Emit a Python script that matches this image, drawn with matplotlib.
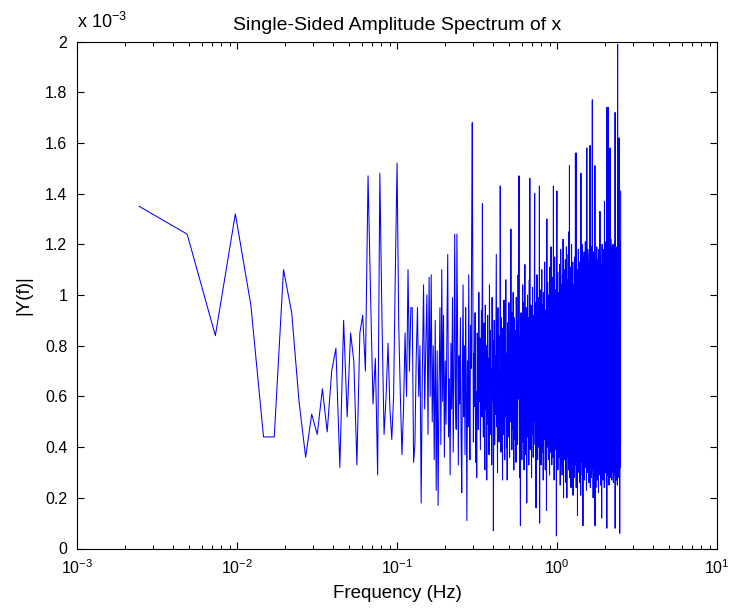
import numpy as np
import matplotlib
matplotlib.use("Agg")
import matplotlib.pyplot as plt
from matplotlib.ticker import FuncFormatter, LogLocator, FixedLocator

plt.rcParams["font.family"] = ["Liberation Sans", "DejaVu Sans"]
plt.rcParams["mathtext.fontset"] = "custom"
plt.rcParams["mathtext.rm"] = "Liberation Sans"
plt.rcParams["mathtext.it"] = "Liberation Sans:italic"
plt.rcParams["mathtext.default"] = "regular"

# Sampling setup of the analysed signal
fs = 5.0          # Hz
nfft = 2048

# Single-sided amplitude |Y(f)|, in units of 1e-5 (i.e. hundredths of 1e-3),
# one value per FFT bin starting at the first non-zero frequency.
amp_low = [
    135, 124, 84, 132, 96, 44, 44, 110, 93, 58,
    36, 53, 45, 63, 46, 70, 79, 32, 90, 52,
    85, 74, 33, 85, 92, 70, 147, 100, 57, 75,
    29, 148, 90, 45, 60, 81, 55, 43, 60, 110,
    152, 88, 60, 37, 55, 85, 60, 110, 70, 95,
    95, 34, 41, 75, 95, 60, 80, 18, 70, 104,
    55, 80, 100, 45, 107, 60, 108, 50, 80, 35,
]

amp_mid = [
    90, 23, 78, 17, 64, 95, 41, 110, 58, 92,
    36, 74, 49, 86, 116, 44, 67, 29, 81, 55,
    99, 38, 72, 124, 61, 47, 124, 83, 33, 76,
    57, 91, 45, 22, 69, 104, 52, 80, 37, 95,
    63, 11, 74, 48, 108, 59, 35, 88, 71, 126,
    168, 98, 42, 77, 56, 93, 34, 62, 28, 85,
    70, 47, 101, 58, 83, 39, 66, 94, 52, 136,
    61, 44, 89, 73, 31, 96, 55, 80, 27, 68,
    92, 49, 75, 37, 104, 63, 86, 45, 71, 33,
    99, 58, 82, 7, 67, 90, 41, 76, 53, 88,
    116, 48, 72, 30, 95, 61, 84, 42, 69, 57,
    143, 66, 38, 91, 54, 79, 27, 87, 62, 45,
    98, 70, 35, 83, 52, 106, 64, 40, 77, 27,
    89, 58, 73, 44, 97, 61, 36, 85, 50, 74,
    126, 57, 82, 39, 93, 68, 47, 101, 55, 31,
    78, 91, 60, 43, 86, 72, 34, 99, 65, 52,
    88, 41, 76, 108, 59, 95, 147, 63, 28, 84,
]

amp_high = [
    50, 9, 77, 93, 46, 68, 35, 88, 61, 104,
    42, 79, 56, 97, 31, 73, 64, 112, 48, 85,
    37, 69, 95, 53, 18, 81, 60, 100, 44, 74,
    58, 91, 33, 77, 106, 49, 146, 66, 39, 83,
    55, 96, 71, 28, 88, 62, 45, 103, 57, 79,
    36, 92, 68, 50, 84, 116, 140, 59, 41, 75,
    97, 63, 16, 87, 54, 72, 108, 46, 80, 35,
    93, 67, 51, 99, 40, 76, 61, 143, 10, 85,
    57, 102, 44, 71, 90, 33, 78, 64, 110, 49,
    83, 38, 96, 59, 74, 27, 101, 66, 52, 88,
    43, 79, 113, 56, 69, 31, 94, 62, 85, 47,
    76, 15, 97, 130, 53, 82, 40, 105, 68, 58,
    91, 35, 77, 63, 100, 45, 86, 29, 73, 111,
    52, 80, 38, 95, 66, 119, 49, 71, 84, 33,
    99, 58, 76, 42, 107, 61, 88, 36, 143, 70,
    54, 93, 27, 81, 65, 115, 47, 89, 60, 102,
    39, 75, 96, 51, 84, 5, 68, 121, 141, 57,
    92, 44, 78, 109, 31, 86, 63, 98, 48, 74,
    101, 36, 83, 59, 112, 42, 95, 67, 25, 88,
    70, 118, 53, 79, 33, 104, 61, 90, 45, 97,
    29, 76, 108, 55, 84, 38, 122, 66, 93, 20,
    81, 58, 110, 47, 96, 71, 35, 103, 62, 87,
    41, 114, 74, 52, 99, 26, 85, 67, 119, 44,
    92, 20, 78, 106, 57, 88, 36, 101, 69, 48,
    116, 59, 83, 31, 97, 72, 125, 43, 90, 151,
    64, 28, 105, 80, 53, 94, 38, 111, 66, 85,
    24, 99, 73, 47, 120, 58, 87, 35, 108, 62,
    91, 42, 79, 113, 56, 21, 96, 70, 104, 49,
]

amp_top = [
    83, 37, 102, 61, 90, 28, 75, 115, 50, 94,
    66, 33, 108, 156, 71, 45, 99, 59, 86, 24,
    156, 68, 103, 40, 92, 77, 31, 110, 57, 13,
    97, 64, 85, 36, 106, 52, 118, 43, 79, 95,
    30, 88, 70, 113, 48, 101, 26, 82, 62, 109,
    55, 92, 39, 104, 73, 21, 96, 148, 60, 84,
    47, 111, 67, 34, 98, 79, 120, 51, 87, 29,
    102, 63, 94, 41, 9, 107, 72, 115, 45, 89,
    58, 100, 35, 83, 117, 66, 27, 95, 53, 112,
    74, 38, 105, 81, 49, 121, 60, 90, 32, 99,
    68, 114, 44, 86, 57, 23, 103, 76, 158, 52,
    92, 40, 108, 64, 97, 30, 84, 118, 55, 73,
    101, 36, 89, 62, 113, 47, 80, 26, 106, 69,
    93, 42, 116, 58, 85, 33, 99, 71, 159, 50,
    87, 24, 110, 65, 96, 45, 104, 78, 37, 119,
    61, 91, 28, 102, 74, 53, 114, 39, 88, 67,
    177, 46, 98, 82, 31, 109, 59, 94, 20, 105,
    70, 43, 117, 63, 86, 35, 100, 77, 52, 112,
    29, 95, 68, 108, 41, 84, 151, 9, 97, 60,
    115, 48, 79, 36, 103, 72, 24, 111, 57, 90,
    44, 106, 66, 93, 31, 119, 54, 82, 38, 101,
    75, 27, 109, 62, 96, 47, 114, 69, 33, 88,
    104, 56, 85, 22, 110, 73, 97, 40, 118, 61,
    83, 35, 102, 67, 94, 29, 107, 58, 89, 133,
    46, 99, 71, 116, 37, 86, 63, 105, 25, 92,
    78, 112, 50, 95, 34, 103, 69, 81, 12, 108,
    57, 91, 43, 120, 65, 98, 30, 87, 74, 111,
    39, 104, 60, 93, 27, 115, 53, 84, 70, 106,
    32, 97, 76, 118, 45, 89, 61, 102, 24, 95,
    137, 55, 86, 38, 109, 67, 100, 42, 121, 58,
    91, 30, 113, 73, 96, 48, 107, 64, 35, 117,
    80, 52, 104, 26, 92, 71, 119, 174, 8, 99,
    63, 110, 44, 87, 36, 115, 68, 101, 29, 94,
    75, 106, 49, 120, 174, 57, 90, 33, 112, 66,
    98, 41, 108, 77, 25, 116, 60, 93, 46, 105,
    70, 118, 37, 89, 54, 111, 31, 158, 64, 96,
    43, 107, 79, 28, 114, 58, 100, 47, 122, 68,
    92, 35, 109, 73, 117, 40, 85, 61, 103, 27,
    96, 76, 119, 50, 88, 34, 111, 65, 99, 44,
    106, 30, 115, 71, 93, 55, 120, 38, 87, 62,
    104, 26, 97, 78, 113, 46, 90, 67, 118, 33,
    101, 59, 84, 42, 109, 72, 95, 29, 116, 63,
    88, 48, 107, 36, 172, 8, 99, 70, 121, 53,
    94, 31, 112, 66, 103, 45, 118, 57, 86, 27,
    110, 74, 97, 39, 115, 61, 92, 50, 106, 34,
    119, 68, 89, 43, 108, 25, 101, 77, 114, 199,
    40, 96, 63, 117, 52, 91, 30, 110, 72, 104,
    46, 120, 58, 87, 35, 113, 69, 98, 28, 162,
    81, 105, 44, 118, 60, 93, 37, 109, 75, 6,
    100, 54, 116, 32, 95, 70, 121, 48, 88, 66,
    107, 41, 97, 141,
]

y_ticks = [0, 0.2e-3, 0.4e-3, 0.6e-3, 0.8e-3, 1.0e-3, 1.2e-3, 1.4e-3, 1.6e-3, 1.8e-3, 2.0e-3]

amp = np.array(amp_low + amp_mid + amp_high + amp_top, dtype=float) * 1e-5
assert amp.size == nfft // 2
freq = fs / 2 * np.linspace(0, 1, nfft // 2 + 1)[1:]

fig = plt.figure(figsize=(7.36, 6.12), dpi=100, facecolor="white")
ax = fig.add_axes([77 / 736, 1 - 548.5 / 612, 640 / 736, 507 / 612])

ax.plot(freq, amp, color="#0000ff", linewidth=0.75)

ax.set_xscale("log")
ax.set_xlim(1e-3, 1e1)
ax.set_ylim(0, 2e-3)
ax.yaxis.set_major_locator(FixedLocator(y_ticks))
ax.yaxis.set_major_formatter(FuncFormatter(lambda v, p: f"{v * 1e3:g}"))
ax.xaxis.set_major_locator(LogLocator(base=10, numticks=10))
ax.xaxis.set_minor_locator(LogLocator(base=10, subs=np.arange(2, 10), numticks=20))

ax.tick_params(which="both", direction="in", top=True, right=True,
               labelsize=11.5, width=0.8, colors="black")
ax.tick_params(which="major", length=5)
ax.tick_params(which="minor", length=3)
ax.tick_params(axis="y", pad=7)
ax.tick_params(axis="x", pad=7)
for sp in ax.spines.values():
    sp.set_linewidth(0.8)

ax.set_title("Single-Sided Amplitude Spectrum of x", fontsize=14, pad=8)
ax.set_xlabel("Frequency (Hz)", fontsize=13.5, labelpad=6)
ax.set_ylabel("|Y(f)|", fontsize=13.5, labelpad=9)
ax.text(0.0, 1.018, r"x 10$^{-3}$", transform=ax.transAxes,
        fontsize=13, ha="left", va="bottom")

fig.savefig("out.png", dpi=100, facecolor="white")
